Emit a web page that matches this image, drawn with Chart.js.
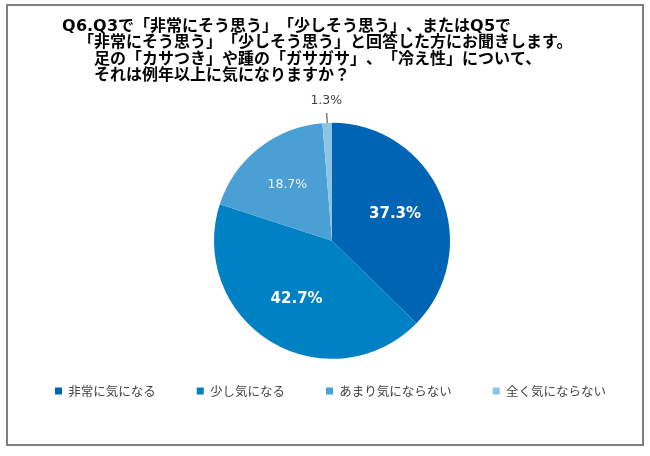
<!DOCTYPE html>
<html>
<head>
<meta charset="utf-8">
<script src="https://cdn.jsdelivr.net/npm/chart.js@4.4.0/dist/chart.umd.min.js"></script>
<style>
  body { margin: 0; background: #fff; }
  canvas { text-spacing-trim: space-all; }
  /* wider latin letters for the title, like the original */
  @font-face {
    font-family: "TitleLatin";
    src: local("DejaVu Sans Bold"), local("DejaVuSans-Bold");
    font-weight: bold;
    unicode-range: U+002E, U+0030-0039, U+0041-005A;
  }
</style>
</head>
<body>
<canvas id="myChart" width="650" height="456"></canvas>
<script>
var titleLines = [
  "　　　Q6.Q3で「非常にそう思う」「少しそう思う」、またはQ5で",
  "　　　　「非常にそう思う」「少しそう思う」と回答した方にお聞きします。",
  "　　　　　足の「カサつき」や踵の「ガサガサ」、「冷え性」について、",
  "　　　　　それは例年以上に気になりますか？"
];
var labels = ["非常に気になる", "少し気になる", "あまり気にならない", "全く気にならない"];
var values = [37.3, 42.7, 18.7, 1.3];
var colors = ["#0064b4", "#0081c3", "#4a9fd5", "#8cc4e8"];

// grey frame round the whole picture
var frame = {
  id: "frame",
  beforeDraw: function(chart) {
    var ctx = chart.ctx;
    ctx.save();
    ctx.fillStyle = "#fff";
    ctx.fillRect(0, 0, chart.width, chart.height);
    ctx.strokeStyle = "#808080";
    ctx.lineWidth = 2;
    ctx.strokeRect(7, 5, 636, 440);
    ctx.restore();
  }
};

// percent labels on the slices, small ones outside with a leader line
var pctLabels = {
  id: "pctLabels",
  afterDatasetsDraw: function(chart) {
    var ctx = chart.ctx;
    var meta = chart.getDatasetMeta(0);
    ctx.save();
    ctx.textAlign = "center";
    ctx.textBaseline = "middle";
    meta.data.forEach(function(arc, i) {
      var p = arc.getProps(["x", "y", "startAngle", "endAngle", "outerRadius"], true);
      var a = (p.startAngle + p.endAngle) / 2;
      var c = Math.cos(a), s = Math.sin(a);
      var r = p.outerRadius;
      var txt = values[i].toFixed(1) + "%";
      if (values[i] < 5) {
        ctx.strokeStyle = "#404040";
        ctx.lineWidth = 1;
        ctx.beginPath();
        ctx.moveTo(p.x + c * r, p.y + s * r);
        ctx.lineTo(p.x + c * (r + 10), p.y + s * (r + 10));
        ctx.stroke();
        ctx.fillStyle = "#404040";
        ctx.font = "12.5px 'DejaVu Sans'";
        ctx.fillText(txt, p.x + c * (r + 22), p.y + s * (r + 22));
      } else if (values[i] > 25) {
        ctx.fillStyle = "#fff";
        ctx.font = "bold 15px 'DejaVu Sans'";
        ctx.fillText(txt, p.x + c * r * 0.58, p.y + s * r * 0.58);
      } else {
        ctx.fillStyle = "#f2f2f2";
        ctx.font = "12.5px 'DejaVu Sans'";
        ctx.fillText(txt, p.x + c * r * 0.61, p.y + s * r * 0.61);
      }
    });
    ctx.restore();
  }
};

function drawChart() {
  new Chart("myChart", {
    type: "pie",
    data: {
      labels: labels,
      datasets: [{
        data: values,
        backgroundColor: colors,
        borderWidth: 0,
        radius: 118,
        clip: false
      }]
    },
    options: {
      responsive: false,
      animation: false,
      layout: { padding: { left: 14, right: 0, top: 0, bottom: 48.75 } },
      plugins: {
        tooltip: { enabled: false },
        title: {
          display: true,
          text: titleLines,
          align: "start",
          color: "#000",
          font: { family: "TitleLatin, 'Noto Sans CJK JP'", size: 16, weight: "bold", lineHeight: 1.03 },
          padding: { top: 16.5, bottom: 55.5 }
        },
        legend: {
          position: "bottom",
          align: "start",
          labels: {
            boxWidth: 7,
            boxHeight: 7,
            padding: 41,
            color: "#404040",
            font: { family: "'Noto Sans CJK JP'", size: 12.5 }
          }
        }
      }
    },
    plugins: [frame, pctLabels]
  });
}

document.fonts.load("bold 16px TitleLatin", "Q6.Q3").then(drawChart, drawChart);
</script>
</body>
</html>
